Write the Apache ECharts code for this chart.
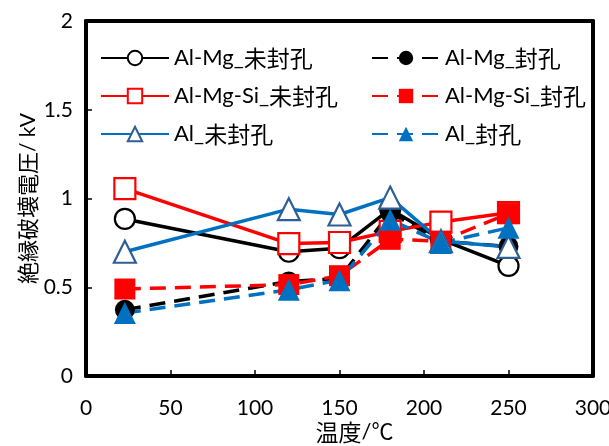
<!DOCTYPE html>
<html><head><meta charset="utf-8">
<script src="https://cdn.jsdelivr.net/npm/echarts@6/dist/echarts.min.js"></script>
<style>html,body{margin:0;padding:0;background:#fff;overflow:hidden}#c{width:609px;height:446px}</style>
</head><body><div id="c"></div>
<script>
const temps = [23, 120, 150, 180, 210, 250];
const alMgOpen   = [0.885, 0.70, 0.72, 0.94, 0.77, 0.62];
const alMgSealed = [0.373, 0.533, 0.55, 0.92, 0.76, 0.73];
const alMgSiOpen   = [1.056, 0.746, 0.752, 0.815, 0.867, 0.92];
const alMgSiSealed = [0.49, 0.515, 0.565, 0.77, 0.76, 0.915];
const alOpen   = [0.70, 0.94, 0.91, 1.005, 0.76, 0.727];
const alSealed = [0.355, 0.486, 0.54, 0.88, 0.75, 0.835];
const xTicks = [0, 50, 100, 150, 200, 250, 300];
const yTicks = [0, 0.5, 1, 1.5, 2];
const X_MAX = 300, Y_MAX = 2;

const FONT = "Lato, 'Noto Sans CJK JP', sans-serif";
const pairs = (ys) => temps.map((t, i) => [t, ys[i]]);

function mk(name, ys, color, symbol, size, filled, dashed, borderColor, axisIdx) {
  return {
    name, type: 'line', data: pairs(ys),
    xAxisIndex: axisIdx || 0, yAxisIndex: axisIdx || 0,
    symbol, symbolSize: size, clip: false,
    lineStyle: { color, width: 3.5, type: dashed ? [16, 9] : 'solid' },
    itemStyle: filled ? { color, borderColor: color, borderWidth: 0 }
                      : { color: '#fff', borderColor: borderColor || color, borderWidth: 2.2 },
    emphasis: { disabled: true },
    animation: false
  };
}
const cjkRich = { c: { fontSize: 23, lineHeight: 24, fontFamily: "'Noto Sans CJK JP'", color: '#000' } };
function splitCjk(s) {
  return s.replace(/([\u3000-\u9fff]+)/g, '{c|$1}');
}
const frameAxis = {
  show: true,
  axisLine: { show: true, onZero: false, lineStyle: { color: '#000', width: 4 } },
  axisTick: { show: false }, axisLabel: { show: false }, splitLine: { show: false }
};

const first = mk('Al-Mg_未封孔', alMgOpen, '#000', 'circle', 20, false, false);
first.markLine = {
  silent: true, animation: false, symbol: ['none', 'none'],
  label: { show: false }, emphasis: { disabled: true },
  lineStyle: { color: '#000', width: 4, type: 'solid' },
  data: [{ yAxis: Y_MAX }, { xAxis: X_MAX }]
};

const chart = echarts.init(document.getElementById('c'), null, { renderer: 'canvas' });
chart.setOption({
  animation: false,
  textStyle: { fontFamily: FONT },
  grid: { left: 86, right: 16, top: 21, bottom: 70, containLabel: false,
    outerBoundsMode: 'auto', outerBounds: { left: -200, right: -200, top: -200, bottom: -200 },
    show: false },
  legend: [
    { orient: 'vertical', left: 95, top: 41, itemWidth: 68, itemHeight: 18, itemGap: 14,
      textStyle: { fontSize: 22, lineHeight: 24, color: '#000', fontFamily: FONT, rich: cjkRich },
      formatter: splitCjk,
      data: ['Al-Mg_未封孔', 'Al-Mg-Si_未封孔', 'Al_未封孔'] },
    { orient: 'vertical', left: 366, top: 41, itemWidth: 68, itemHeight: 18, itemGap: 14,
      textStyle: { fontSize: 22, lineHeight: 24, color: '#000', fontFamily: FONT, rich: cjkRich },
      formatter: splitCjk,
      data: ['Al-Mg_封孔', 'Al-Mg-Si_封孔', 'Al_封孔'] }
  ],
  xAxis: [{
    type: 'value', min: 0, max: X_MAX, interval: 50,
    name: '{c|温度}/℃', nameLocation: 'middle', nameGap: 44, nameMoveOverlap: false,
    nameTextStyle: { fontSize: 22, color: '#000', fontFamily: FONT, rich: cjkRich, padding: [0, 0, 0, 30] },
    axisLine: { show: true, onZero: false, lineStyle: { color: '#000', width: 4 } },
    axisTick: { show: true, inside: true, length: 6, lineStyle: { color: '#000', width: 1.5 } },
    axisLabel: { fontSize: 21, color: '#000', margin: 22, fontFamily: FONT,
      formatter: (v) => xTicks.includes(v) ? String(v) : '' },
    splitLine: { show: false }
  }, Object.assign({ type: 'value', position: 'top', min: 0, max: X_MAX, interval: 50 }, frameAxis)],
  yAxis: [{
    type: 'value', min: 0, max: Y_MAX, interval: 0.5,
    name: '{c|絶縁破壊電圧}/ kV', nameLocation: 'middle', nameGap: 46, nameMoveOverlap: false,
    nameTextStyle: { fontSize: 21, color: '#000', fontFamily: FONT, rich: { c: { fontSize: 22, lineHeight: 24, fontFamily: "'Noto Sans CJK JP'", color: '#000' } } },
    axisLine: { show: true, onZero: false, lineStyle: { color: '#000', width: 4 } },
    axisTick: { show: true, inside: true, length: 6, lineStyle: { color: '#000', width: 1.5 } },
    axisLabel: { fontSize: 21, color: '#000', margin: 13, fontFamily: FONT,
      formatter: (v) => yTicks.includes(v) ? String(v) : '' },
    splitLine: { show: false }
  }, Object.assign({ type: 'value', position: 'right', min: 0, max: Y_MAX, interval: 0.5 }, frameAxis)],
  series: [
    first,
    mk('Al-Mg_封孔', alMgSealed, '#000', 'circle', 20, true, true),
    mk('Al-Mg-Si_未封孔', alMgSiOpen, '#FF0000', 'rect', 21, false, false),
    mk('Al-Mg-Si_封孔', alMgSiSealed, '#FF0000', 'rect', 21, true, true),
    mk('Al_未封孔', alOpen, '#0070C0', 'triangle', 22, false, false, '#2E5F94'),
    mk('Al_封孔', alSealed, '#0070C0', 'triangle', 22, true, true, null, 1)
  ]
});
</script></body></html>
